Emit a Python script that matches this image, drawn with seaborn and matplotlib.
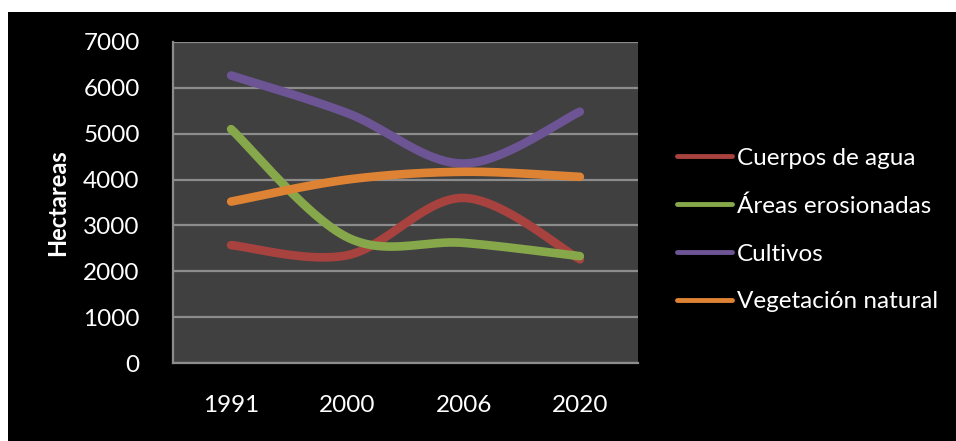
import numpy as np
import pandas as pd
import matplotlib
matplotlib.use("Agg")
import matplotlib.pyplot as plt
import seaborn as sns
from matplotlib.patches import Rectangle

years = ["1991", "2000", "2006", "2020"]
cuerpos_agua = [2570, 2350, 3600, 2260]
areas_erosionadas = [5100, 2740, 2620, 2330]
cultivos = [6270, 5450, 4350, 5480]
vegetacion_natural = [3520, 4000, 4170, 4060]

series_names = ["Cuerpos de agua", "Áreas erosionadas", "Cultivos", "Vegetación natural"]
series_values = [cuerpos_agua, areas_erosionadas, cultivos, vegetacion_natural]
colors = ["#A8423F", "#86A84A", "#6D5495", "#DE8234"]

sns.set_theme(style="dark")
plt.rcParams["font.family"] = ["Lato", "DejaVu Sans"]


def smooth_curve(xs, ys, steps=60):
    """Cubic Bezier smoothing through every point (spreadsheet-style smoothed line)."""
    pts = np.column_stack([xs, ys]).astype(float)
    n = len(pts)
    out = []
    for i in range(n - 1):
        p0 = pts[i - 1] if i > 0 else pts[i]
        p1 = pts[i]
        p2 = pts[i + 1]
        p3 = pts[i + 2] if i + 2 < n else pts[i + 1]
        c1 = p1 + (p2 - p0) / 6.0
        c2 = p2 - (p3 - p1) / 6.0
        t = np.linspace(0, 1, steps)[:, None]
        seg = ((1 - t) ** 3) * p1 + 3 * ((1 - t) ** 2) * t * c1 + 3 * (1 - t) * t ** 2 * c2 + t ** 3 * p2
        out.append(seg if i == 0 else seg[1:])
    return np.vstack(out)


W, H = 956, 441
FS = 17.5
fig = plt.figure(figsize=(W / 100, H / 100), dpi=100)
fig.patch.set_facecolor("white")
fig.patches.append(Rectangle((8 / W, 0), 1 - 8 / W, (H - 12) / H,
                             transform=fig.transFigure, facecolor="black",
                             edgecolor="none", zorder=-10))

ax = fig.add_axes([173 / W, (H - 363) / H, (638 - 173) / W, (363 - 42) / H])
ax.set_facecolor("#404040")

frames = []
for name, vals in zip(series_names, series_values):
    xy = smooth_curve(np.arange(len(years)), vals)
    frames.append(pd.DataFrame({"x": xy[:, 0], "y": xy[:, 1], "serie": name}))
df = pd.concat(frames, ignore_index=True)

sns.lineplot(data=df, x="x", y="y", hue="serie", hue_order=series_names,
             palette=colors, sort=False, estimator=None, units="serie",
             linewidth=6.2, solid_capstyle="round", ax=ax, legend=False, zorder=3)

ax.set_xlim(-0.5, len(years) - 0.5)
ax.set_ylim(0, 7000)
ax.set_yticks(range(0, 7001, 1000))
ax.set_xticks(range(len(years)))
ax.set_xticklabels(years)
ax.grid(axis="y", color="#8C8C8C", linewidth=1.6)
ax.grid(axis="x", visible=False)
ax.tick_params(axis="both", length=0, labelsize=FS, colors="white")
ax.tick_params(axis="y", pad=24)
ax.tick_params(axis="x", pad=23)
for side in ["top", "right"]:
    ax.spines[side].set_visible(False)
for side in ["left", "bottom"]:
    ax.spines[side].set_color("#8C8C8C")
    ax.spines[side].set_linewidth(1.6)
ax.set_xlabel("")
ax.set_ylabel("")

fig.text(58 / W, 1 - 203 / H, "Hectareas", rotation=90, ha="center", va="center",
         color="white", fontsize=17, fontweight="bold")

handles = [plt.Line2D([], [], color=c, linewidth=3.5, solid_capstyle="round") for c in colors]
leg = fig.legend(handles, series_names, loc="center left",
                 bbox_to_anchor=(677 / W, 1 - 230 / H), frameon=False,
                 borderpad=0, borderaxespad=0,
                 fontsize=FS, handlelength=2.25, handletextpad=0.2,
                 labelspacing=1.1, labelcolor="white")

fig.savefig("out.png", dpi=100, facecolor=fig.get_facecolor())
